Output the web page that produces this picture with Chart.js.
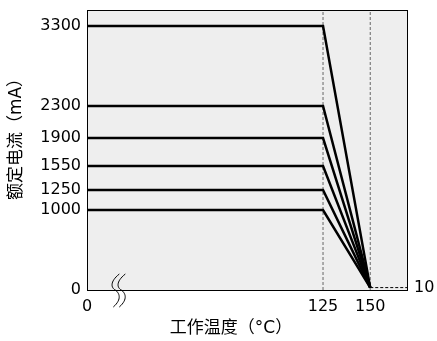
<!DOCTYPE html>
<html>
<head>
<meta charset="utf-8">
<script src="https://cdn.jsdelivr.net/npm/chart.js@4"></script>
<style>
  html, body { margin: 0; padding: 0; background: #fff; }
</style>
</head>
<body>
<canvas id="canvas" width="437" height="341"></canvas>
<script>
// derating curves: rated current flat up to 125 °C, then down to the end point at 150 °C
var ratedCurrents = [3300, 2300, 1900, 1550, 1250, 1000];
var derateStart = 125;
var derateEnd = 150;
var endCurrent = 30;          // drawn position of the "10" end point
var xTickValues = [0, 125, 150];
var yTickValues = [0, 1000, 1250, 1550, 1900, 2300, 3300];
var rightTickValues = [30];
var rightTickLabels = ['10'];
var xMin = 0, xMax = 170;
var yMin = 0, yMax = 3500;
var breakAt = 15;
var xTitle = '工作温度（°C）';
var yTitle = '额定电流（mA）';

var fontFamily = "'DejaVu Sans', 'Noto Sans CJK SC', sans-serif";

var datasets = ratedCurrents.map(function(c) {
    return {
        data: [{x: xMin, y: c}, {x: derateStart, y: c}, {x: derateEnd, y: endCurrent}],
        borderColor: '#000',
        borderWidth: 2.5,
        pointRadius: 0,
        tension: 0
    };
});
// dashed guides
[derateStart, derateEnd].forEach(function(v) {
    datasets.push({
        data: [{x: v, y: yMin}, {x: v, y: yMax}],
        borderColor: '#666',
        borderWidth: 1,
        borderDash: [3, 2],
        pointRadius: 0
    });
});
datasets.push({
    data: [{x: derateEnd, y: endCurrent}, {x: xMax, y: endCurrent}],
    borderColor: '#000',
    borderWidth: 1,
    borderDash: [3, 2],
    pointRadius: 0
});

function noEdgePadding(s) {
    s.paddingTop = 0;
    s.paddingBottom = 0;
}

var framePlugin = {
    id: 'frame',
    beforeDraw: function(chart) {
        var a = chart.chartArea, ctx = chart.ctx;
        ctx.save();
        ctx.fillStyle = '#eeeeee';
        ctx.fillRect(a.left, a.top, a.right - a.left, a.bottom - a.top);
        ctx.restore();
    },
    afterDraw: function(chart) {
        var a = chart.chartArea, ctx = chart.ctx;
        ctx.save();
        ctx.strokeStyle = '#000';
        ctx.lineWidth = 1;
        ctx.strokeRect(a.left + 0.5, a.top + 0.5, a.right - a.left - 1, a.bottom - a.top);
        // axis break mark
        var bx = chart.scales.x.getPixelForValue(breakAt);
        var by = a.bottom;
        [0, 6].forEach(function(dx) {
            var x = bx + dx;
            ctx.beginPath();
            ctx.moveTo(x + 4, by - 16);
            ctx.bezierCurveTo(x - 6, by - 8, x - 4, by - 2, x, by);
            ctx.bezierCurveTo(x + 4, by + 3, x + 7, by + 9, x - 2, by + 17);
            ctx.stroke();
        });
        // axis titles, placed like the original figure
        ctx.fillStyle = '#000';
        ctx.font = '17px ' + fontFamily;
        ctx.textAlign = 'center';
        ctx.textBaseline = 'middle';
        ctx.fillText(xTitle, 231, 329);
        ctx.translate(17, 135);
        ctx.rotate(-Math.PI / 2);
        ctx.fillText(yTitle, 0, 0);
        ctx.restore();
    }
};

window.onload = function() {
    var ctx = document.getElementById('canvas').getContext('2d');
    window.myChart = new Chart(ctx, {
        type: 'line',
        data: { datasets: datasets },
        plugins: [framePlugin],
        options: {
            responsive: false,
            animation: false,
            layout: { padding: { top: 10, left: 0, right: 0, bottom: 0 } },
            plugins: { legend: { display: false }, tooltip: { enabled: false } },
            scales: {
                x: {
                    type: 'linear',
                    min: xMin, max: xMax,
                    grid: { display: false, drawTicks: false },
                    border: { display: false },
                    afterBuildTicks: function(s) { s.ticks = xTickValues.map(function(v) { return {value: v}; }); },
                    afterFit: function(s) { s.height = 51; s.paddingLeft = 0; s.paddingRight = 0; },
                    ticks: { color: '#000', padding: 7, maxRotation: 0, font: { family: fontFamily, size: 16 },
                        callback: function(v) { return String(v); } }
                },
                y: {
                    type: 'linear',
                    min: yMin, max: yMax,
                    grid: { display: false, drawTicks: false },
                    border: { display: false },
                    afterBuildTicks: function(s) { s.ticks = yTickValues.map(function(v) { return {value: v}; }); },
                    afterFit: function(s) { s.width = 87; noEdgePadding(s); },
                    ticks: { color: '#000', padding: 6, font: { family: fontFamily, size: 16 },
                        callback: function(v) { return String(v); } }
                },
                y2: {
                    type: 'linear',
                    position: 'right',
                    min: yMin, max: yMax,
                    grid: { display: false, drawTicks: false },
                    border: { display: false },
                    afterBuildTicks: function(s) { s.ticks = rightTickValues.map(function(v) { return {value: v}; }); },
                    afterFit: function(s) { s.width = 29; noEdgePadding(s); },
                    ticks: {
                        color: '#000', padding: 6, font: { family: fontFamily, size: 16 },
                        callback: function(v, i) { return rightTickLabels[i]; }
                    }
                }
            }
        }
    });
};
</script>
</body>
</html>
